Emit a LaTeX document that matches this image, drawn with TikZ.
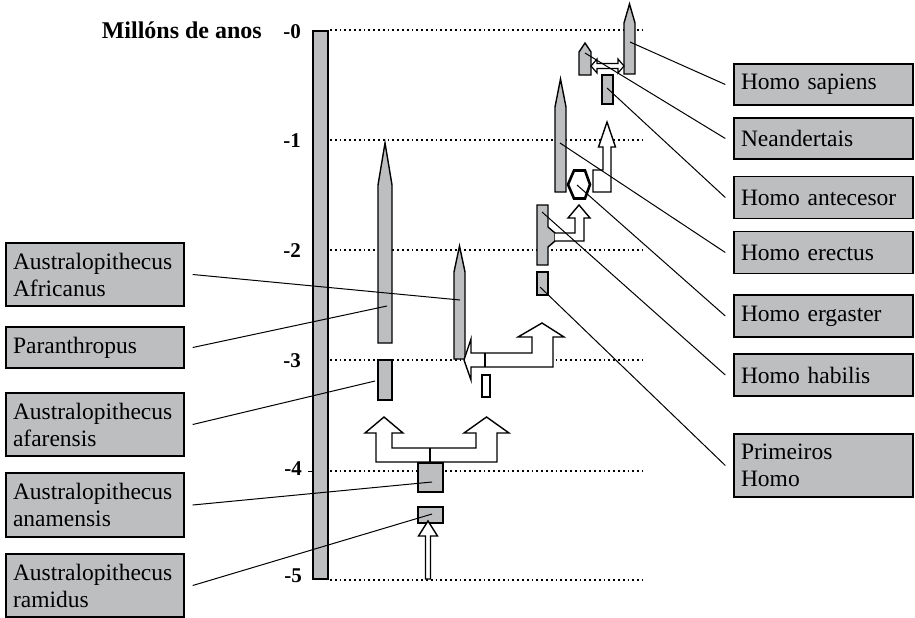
\documentclass[tikz,border=0pt]{standalone}
\usepackage{fontspec}
\setmainfont{Liberation Serif}
\definecolor{gfill}{RGB}{189,190,192}
\begin{document}
\begin{tikzpicture}[x=1pt,y=-1pt,
  gshape/.style={draw=black,fill=gfill,line width=1.4pt,line join=miter},
  hollow/.style={draw=black,fill=white,line width=1.4pt,line join=miter},
  conn/.style={draw=black,line width=1pt},
  mydot/.style={line width=1.7pt,dash pattern=on 1.7pt off 3.1pt},
  lbox/.style={draw=black,fill=gfill,line width=1.4pt,text width=164pt,inner xsep=7pt,inner ysep=0pt,align=left,font=\fontsize{23.5}{27}\selectfont,minimum height=#1},
  rbox/.style={lbox=#1,text width=165pt},
  axlab/.style={anchor=base east,inner sep=0pt,font=\fontsize{21}{24}\selectfont\bfseries},
]
\useasboundingbox (0,0) rectangle (915,618);

% title and axis labels
\node[anchor=base east,inner sep=0pt,font=\fontsize{24}{28}\selectfont\bfseries] (title) at (262,38) {Millóns de anos};
\node[axlab] (l0) at (301,39) {-0};
\node[axlab] (l1) at (301,147) {-1};
\node[axlab] (l2) at (301,257) {-2};
\node[axlab] (l3) at (301,367) {-3};
\node[axlab] (l4) at (302,475) {-4};
\node[axlab] (l5) at (302,582) {-5};

% dotted levels
\foreach \yy in {30,140,250,360,471,580}{
  \draw[mydot] (330,\yy) -- (643,\yy);
}
\draw[line width=1pt] (308,471) -- (313,471);

% time bar
\draw[gshape] (313,31) rectangle (328,579);

% Australopithecines
\draw[gshape] (378,343)--(378,185)--(385,143)--(392,185)--(392,343)--cycle; % paranthropus
\draw[gshape] (454,359)--(454,272)--(459.5,246)--(465,272)--(465,359)--cycle; % africanus
\draw[gshape] (378,360) rectangle (392,400); % afarensis
% fork arrow
\draw[hollow] (376,462)--(376,433)--(365,433)--(384,417)--(403,433)--(392,433)--(392,448)--(476,448)--(476,433)--(464,433)--(486.5,417)--(509,433)--(497,433)--(497,462)--cycle;
\draw[line width=1.4pt] (430,448)--(430,462);
\draw[gshape] (418,463) rectangle (443,492); % anamensis
\draw[gshape] (418,507) rectangle (443,523); % ramidus
\draw[hollow] (425.5,579)--(425.5,536)--(418.5,536)--(428,521)--(437.5,536)--(430.5,536)--(430.5,579)--cycle;

% L arrow towards Homo
\draw[hollow] (464,360)--(471,339)--(471,353)--(532,353)--(532,337)--(518,337)--(542,323)--(564,337)--(553,337)--(553,367)--(471,367)--(471,380)--cycle;
\draw[line width=1.4pt] (485,353)--(485,367);
\draw[hollow] (482,375) rectangle (490,397);

% Homo
\draw[gshape] (537,272) rectangle (548,295); % primeiros
\draw[gshape] (537,205)--(548,205)--(548,227)--(555,233)--(555,241)--(548,247)--(548,265)--(537,265)--cycle; % habilis
\draw[hollow] (555,233)--(575,233)--(575,218)--(568,218)--(579,205)--(590,218)--(584,218)--(584,241)--(555,241);
\draw[draw=black,fill=white,line width=2.6pt,line join=miter] (568,184.5)--(574,170.5)--(585,170.5)--(590,184.5)--(585,198.5)--(574,198.5)--cycle; % ergaster
\draw[gshape] (555,192)--(555,107)--(560.5,79)--(566,107)--(566,192)--cycle; % erectus
\draw[hollow] (593,192)--(611,192)--(611,147)--(615.5,147)--(607,122)--(598.5,147)--(603,147)--(603,170)--(593,170)--cycle;
\draw[gshape] (602,75) rectangle (613,104); % antecesor
\draw[gshape] (579,75)--(579,52)--(585,43)--(591,52)--(591,75)--cycle; % neandertais
\draw[gshape] (624,74)--(624,23)--(629.5,4)--(635,23)--(635,74)--cycle; % sapiens
\draw[hollow,line width=1.2pt] (591,66)--(597,59)--(597,63.5)--(618,63.5)--(618,59)--(624,66)--(618,73)--(618,68.5)--(597,68.5)--(597,73)--cycle;

% attachment points
\coordinate (pAfr) at (460,300);
\coordinate (pPar) at (387,306);
\coordinate (pAfa) at (375,381);
\coordinate (pAna) at (432,482);
\coordinate (pRam) at (432,514);
\coordinate (pSap) at (630,42);
\coordinate (pNea) at (585,53);
\coordinate (pAnt) at (607,88);
\coordinate (pEre) at (560,143);
\coordinate (pErg) at (577,185);
\coordinate (pHab) at (542,212);
\coordinate (pPri) at (540,287);

% label boxes left
\node[lbox=63pt] (bAfr) at (95,274.5) {Australopithecus\\Africanus};
\node[lbox=41pt] (bPar) at (95,347.5) {Paranthropus};
\node[lbox=63pt] (bAfa) at (95,424.5) {Australopithecus\\afarensis};
\node[lbox=64pt] (bAna) at (95,505) {Australopithecus\\anamensis};
\node[lbox=63pt] (bRam) at (95,585.5) {Australopithecus\\ramidus};

% label boxes right
\node[rbox=41pt] (bSap) at (823.5,84.5) {Homo sapiens};
\node[rbox=41pt] (bNea) at (823.5,138.5) {Neandertais};
\node[rbox=42pt] (bAnt) at (823.5,197.5) {Homo antecesor};
\node[rbox=42pt] (bEre) at (823.5,252.5) {Homo erectus};
\node[rbox=42pt] (bErg) at (823.5,316) {Homo ergaster};
\node[rbox=42pt] (bHab) at (823.5,375) {Homo habilis};
\node[rbox=63pt] (bPri) at (823.5,465.5) {Primeiros\\Homo};

% connectors
\draw[conn] ([xshift=8pt]bAfr.east) -- (pAfr);
\draw[conn] ([xshift=8pt]bPar.east) -- (pPar);
\draw[conn] ([xshift=8pt]bAfa.east) -- (pAfa);
\draw[conn] ([xshift=8pt]bAna.east) -- (pAna);
\draw[conn] ([xshift=8pt]bRam.east) -- (pRam);
\draw[conn] ([xshift=-8pt]bSap.west) -- (pSap);
\draw[conn] ([xshift=-8pt]bNea.west) -- (pNea);
\draw[conn] ([xshift=-8pt]bAnt.west) -- (pAnt);
\draw[conn] ([xshift=-8pt]bEre.west) -- (pEre);
\draw[conn] ([xshift=-8pt]bErg.west) -- (pErg);
\draw[conn] ([xshift=-8pt]bHab.west) -- (pHab);
\draw[conn] ([xshift=-8pt]bPri.west) -- (pPri);
\end{tikzpicture}
\end{document}
